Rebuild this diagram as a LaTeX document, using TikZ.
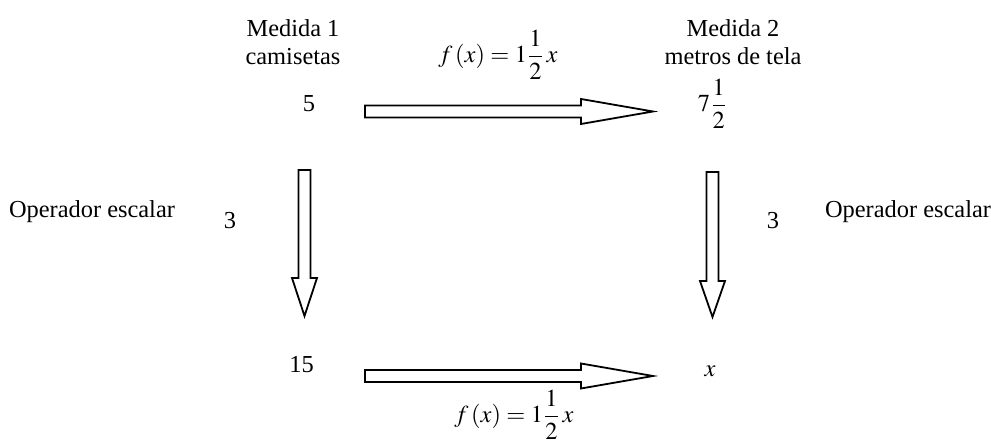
\documentclass[tikz,border=0pt]{standalone}
\usepackage{amsmath}
\usepackage{mathptmx}
\usepackage{fontspec}
\setmainfont{Liberation Serif}
\usetikzlibrary{calc}
\tikzset{
  head len/.store in=\headlen, head len=36pt,
  blockarrow/.style={draw=black,line width=0.9pt,line join=miter,
    to path={($(\tikztotarget)!\headlen!(\tikztostart)$) coordinate (hb)
      ($(\tikztostart)!3pt!90:(\tikztotarget)$)
      -- ($(hb)!3pt!90:(\tikztotarget)$)
      -- ($(hb)!6.25pt!90:(\tikztotarget)$)
      -- (\tikztotarget)
      -- ($(hb)!6.25pt!-90:(\tikztotarget)$)
      -- ($(hb)!3pt!-90:(\tikztotarget)$)
      -- ($(\tikztostart)!3pt!-90:(\tikztotarget)$)
      -- cycle}},
  lbl/.style={inner sep=0pt,font=\fontsize{12.2}{14.2}\selectfont},
}

\begin{document}
\begin{tikzpicture}[x=0.5pt,y=-0.5pt]
    \useasboundingbox (0,0) rectangle (991,442);
    \node[lbl,align=center,anchor=north] (meas1) at (293,19) {Medida 1\\camisetas};
    \node[lbl,align=center,anchor=north] (meas2) at (733,19) {Medida 2\\metros de tela};
    \node[lbl,anchor=base] (ftop) at (498,63) {$f\,(x)=1\dfrac{1}{2}\,x$};
    \node[lbl,anchor=base] (five) at (309,112) {5};
    \node[lbl,anchor=base] (seven) at (712.5,112) {$7\dfrac{1}{2}$};
    \node[lbl,anchor=base] (opleft) at (92,218) {Operador escalar};
    \node[lbl,anchor=base] (threeleft) at (230,229) {3};
    \node[lbl,anchor=base] (threeright) at (773,229) {3};
    \node[lbl,anchor=base] (opright) at (908,218) {Operador escalar};
    \node[lbl,anchor=base] (fifteen) at (301.5,373) {15};
    \node[lbl,anchor=base] (xval) at (710,377) {$x$};
    \node[lbl,anchor=base] (fbot) at (514,423) {$f\,(x)=1\dfrac{1}{2}\,x$};
    \coordinate (fiveout) at (365,111.5);
    \coordinate (sevenin) at (653,111.5);
    \coordinate (fivedown) at (304.5,170);
    \coordinate (fifteenin) at (304.5,316);
    \coordinate (sevendown) at (712.5,172);
    \coordinate (xin) at (712.5,317);
    \coordinate (fifteenout) at (365,376);
    \coordinate (xinh) at (653,376);
    \draw[blockarrow] (fiveout) to (sevenin);
    \draw[blockarrow,head len=19pt] (fivedown) to (fifteenin);
    \draw[blockarrow,head len=18pt] (sevendown) to (xin);
    \draw[blockarrow] (fifteenout) to (xinh);
\end{tikzpicture}
\end{document}
